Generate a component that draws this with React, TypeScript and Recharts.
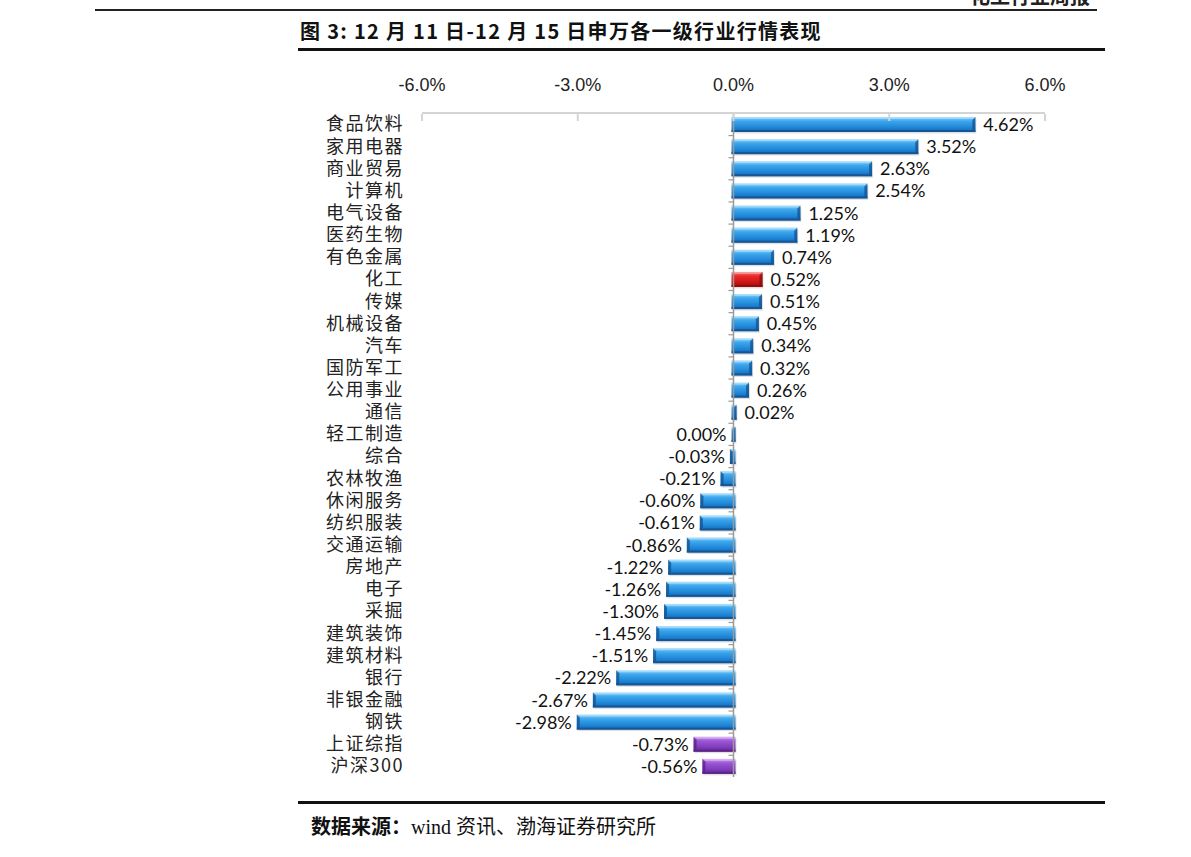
import { BarChart, Bar, XAxis, YAxis, ReferenceLine, LabelList } from 'recharts';

// 申万一级行业 12/11-12/15 涨跌幅 (%)
const industries = [
  '食品饮料', '家用电器', '商业贸易', '计算机', '电气设备', '医药生物', '有色金属', '化工',
  '传媒', '机械设备', '汽车', '国防军工', '公用事业', '通信', '轻工制造', '综合',
  '农林牧渔', '休闲服务', '纺织服装', '交通运输', '房地产', '电子', '采掘', '建筑装饰',
  '建筑材料', '银行', '非银金融', '钢铁', '上证综指', '沪深300'
];
const changes = [
  4.62, 3.52, 2.63, 2.54, 1.25, 1.19, 0.74, 0.52,
  0.51, 0.45, 0.34, 0.32, 0.26, 0.02, 0.0, -0.03,
  -0.21, -0.6, -0.61, -0.86, -1.22, -1.26, -1.3, -1.45,
  -1.51, -2.22, -2.67, -2.98, -0.73, -0.56
];
const highlight = ['化工'];
const indices = ['上证综指', '沪深300'];
const xTicks = [-6, -3, 0, 3, 6];

const rows = industries.map((name, i) => ({
  name,
  value: changes[i],
  kind: highlight.includes(name) ? 'red' : indices.includes(name) ? 'purple' : 'blue'
}));

const BAND = 664 / 30;

const BevelBar = (props: any) => {
  const { x, y, width, height, payload } = props;
  const left = Math.min(x, x + width);
  const w = Math.abs(width);
  const zeroX = payload.value >= 0 ? Math.min(x, x + width) : Math.max(x, x + width);
  const l = left - 2;
  const ww = w + 4;
  const kind = payload.kind;
  const edge = kind === 'red' ? '#8a0c0c' : kind === 'purple' ? '#5a2384' : '#14508f';
  const bandTop = y + height / 2 - BAND / 2;
  const endX = payload.value >= 0 ? l + ww : l;
  const dir = payload.value >= 0 ? -1 : 1;
  return (
    <g>
      <line x1={zeroX - 5} x2={zeroX} y1={bandTop} y2={bandTop} stroke="#9a9a9a" strokeWidth={1.2} />
      <rect x={l + 1} y={y + 1.5} width={ww} height={height} fill="#000" opacity={0.12} />
      <rect x={l} y={y} width={ww} height={height} fill={`url(#grad-${kind})`} />
      <rect x={l} y={y} width={ww} height={2} fill="#fff" opacity={0.35} />
      <polygon
        points={`${endX},${y} ${endX},${y + height} ${endX + dir * 3},${y + height - 3} ${endX + dir * 3},${y + 3}`}
        fill={edge}
        opacity={0.75}
      />
      <rect x={l} y={y + height - 2} width={ww} height={2} fill={edge} opacity={0.8} />
    </g>
  );
};

const ValueLabel = (props: any) => {
  const { x, y, width, height, value } = props;
  const lo = Math.min(x, x + width);
  const hi = Math.max(x, x + width);
  const pos = value > 0;
  return (
    <text
      x={pos ? hi + 10 : lo - 7}
      y={y + height / 2 + 2}
      textAnchor={pos ? 'start' : 'end'}
      dominantBaseline="middle"
      fontFamily="Lato, 'Open Sans', sans-serif"
      fontSize={18}
      fill="#111"
    >
      {value.toFixed(2) + '%'}
    </text>
  );
};

const TopTick = (props: any) => {
  const { x, y, payload } = props;
  return (
    <g>
      <line x1={x} x2={x} y1={y + 1} y2={y + 8} stroke="#d4d4d4" strokeWidth={2} />
      <text
        x={x}
        y={y - 22}
        textAnchor="middle"
        fontFamily="'Liberation Sans Narrow', 'Liberation Sans', sans-serif"
        fontSize={18}
        fill="#222"
      >
        {payload.value.toFixed(1) + '%'}
      </text>
    </g>
  );
};

export default function App() {
  return (
    <div style={{ position: 'absolute', left: 0, top: 0, width: 1191, height: 857, background: '#fff', overflow: 'hidden' }}>
      <svg width={0} height={0} style={{ position: 'absolute' }}>
        <defs>
          <linearGradient id="grad-blue" x1="0" y1="0" x2="0" y2="1">
            <stop offset="0%" stopColor="#7fd0fa" />
            <stop offset="30%" stopColor="#3aa4ec" />
            <stop offset="70%" stopColor="#1f86d6" />
            <stop offset="100%" stopColor="#1565b0" />
          </linearGradient>
          <linearGradient id="grad-red" x1="0" y1="0" x2="0" y2="1">
            <stop offset="0%" stopColor="#f87070" />
            <stop offset="30%" stopColor="#e62a2a" />
            <stop offset="70%" stopColor="#cc1414" />
            <stop offset="100%" stopColor="#9e0c0c" />
          </linearGradient>
          <linearGradient id="grad-purple" x1="0" y1="0" x2="0" y2="1">
            <stop offset="0%" stopColor="#c98ff0" />
            <stop offset="30%" stopColor="#9a55d4" />
            <stop offset="70%" stopColor="#7f3cbc" />
            <stop offset="100%" stopColor="#5f2790" />
          </linearGradient>
        </defs>
      </svg>

      <div style={{ position: 'absolute', left: 970, top: -16, fontFamily: "'Noto Sans CJK SC', sans-serif", fontSize: 20, fontWeight: 700, color: '#222', lineHeight: '24px' }}>
        化工行业周报
      </div>
      <div style={{ position: 'absolute', left: 95, top: 9, width: 1002, height: 2, background: '#222' }} />

      <div style={{ position: 'absolute', left: 300, top: 18, fontFamily: "'Noto Sans CJK SC', sans-serif", fontSize: 20, fontWeight: 700, color: '#111', letterSpacing: 1.3, lineHeight: '26px', whiteSpace: 'nowrap' }}>
        图 3: 12 月 11 日-12 月 15 日申万各一级行业行情表现
      </div>
      <div style={{ position: 'absolute', left: 298, top: 48, width: 807, height: 3, background: '#111' }} />

      <div style={{ position: 'absolute', left: 0, top: 0 }}>
        <BarChart
          width={1191}
          height={800}
          data={rows}
          layout="vertical"
          margin={{ top: 83, right: 146, bottom: 23, left: 302 }}
          barSize={15}
        >
          <XAxis
            type="number"
            orientation="top"
            domain={[-6, 6]}
            ticks={xTicks}
            height={30}
            tickSize={0}
            tickMargin={0}
            tickLine={false}
            axisLine={{ stroke: '#d4d4d4', strokeWidth: 2 }}
            tick={<TopTick />}
            interval={0}
          />
          <YAxis
            type="category"
            dataKey="name"
            width={120}
            axisLine={false}
            tickLine={false}
            tickSize={6}
            tickMargin={12}
            interval={0}
            tick={{ fontFamily: "'Noto Sans CJK SC', sans-serif", fontSize: 18, fill: '#222', letterSpacing: 1.5 }}
          />
          <ReferenceLine x={0} stroke="#9a9a9a" strokeWidth={1.5} />
          <Bar dataKey="value" isAnimationActive={false} shape={<BevelBar />}>
            <LabelList dataKey="value" content={<ValueLabel />} />
          </Bar>
        </BarChart>
      </div>

      <div style={{ position: 'absolute', left: 298, top: 801, width: 807, height: 3, background: '#111' }} />
      <div style={{ position: 'absolute', left: 311, top: 813, fontSize: 20, color: '#111', whiteSpace: 'nowrap', lineHeight: '26px' }}>
        <span style={{ fontFamily: "'Noto Sans CJK SC', sans-serif", fontWeight: 700 }}>数据来源：</span>
        <span style={{ fontFamily: "'Liberation Serif', 'Noto Sans CJK SC', serif" }}>wind 资讯、渤海证券研究所</span>
      </div>
    </div>
  );
}
